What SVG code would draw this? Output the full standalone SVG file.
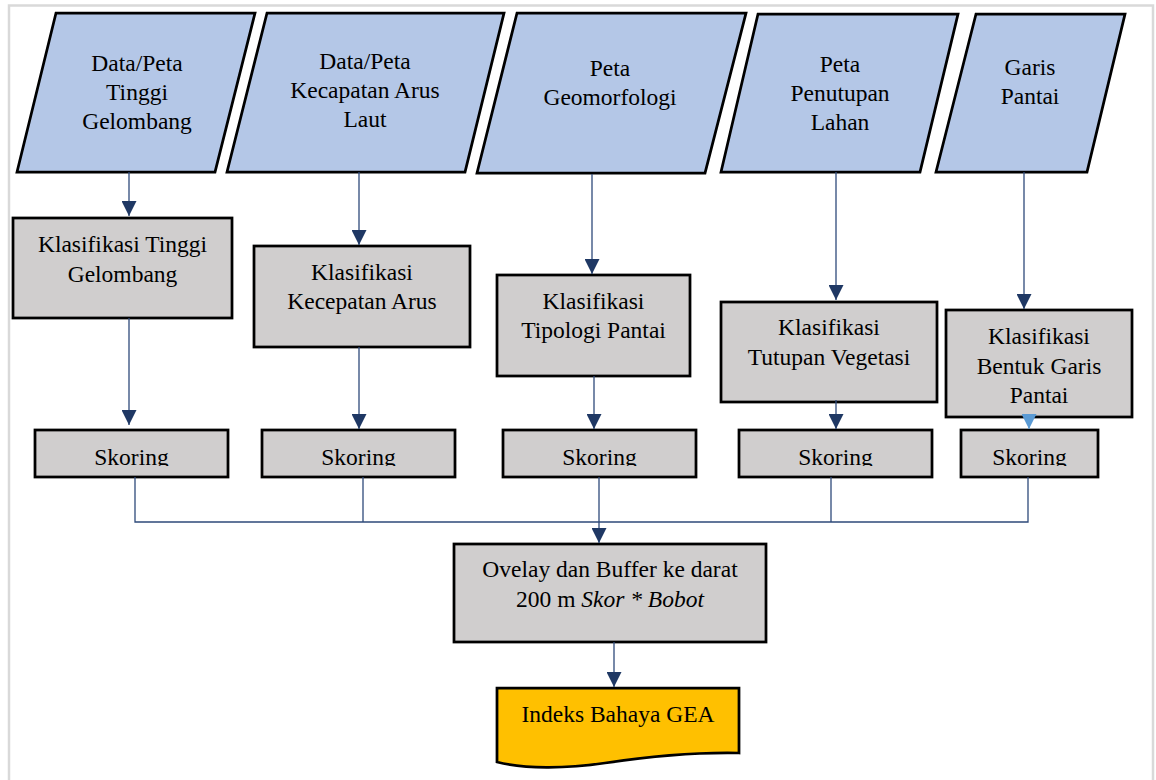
<svg xmlns="http://www.w3.org/2000/svg" width="1156" height="780" viewBox="0 0 1156 780" font-family="Liberation Serif, Times New Roman, DejaVu Serif, serif">
<style>
.frame{fill:#ffffff;stroke:#d9d9d9;stroke-width:2.5}
.data{fill:#b4c7e7;stroke:#000;stroke-width:2.75;stroke-linejoin:miter}
.proc{fill:#d0cece;stroke:#000;stroke-width:2.75}
.doc{fill:#ffc000;stroke:#000;stroke-width:2.75}
.t{font-family:'Liberation Serif','Times New Roman','DejaVu Serif',serif;font-size:23.5px;fill:#000;text-anchor:middle}
.conn{fill:none;stroke:#2e4a7a;stroke-width:1.3}
.arr{marker-end:url(#ah)}
.light{fill:none;stroke:#5b9bd5;stroke-width:1.3;marker-end:url(#ahl)}
</style>
<defs>
<marker id="ah" markerUnits="userSpaceOnUse" markerWidth="15" markerHeight="15" refX="15" refY="7.5" orient="auto" viewBox="0 0 15 15">
<path d="M0,0 L15,7.5 L0,15 Z" fill="#1f3864"/>
</marker>
<marker id="ahl" markerUnits="userSpaceOnUse" markerWidth="15" markerHeight="15" refX="15" refY="7.5" orient="auto" viewBox="0 0 15 15">
<path d="M0,0 L15,7.5 L0,15 Z" fill="#5b9bd5"/>
</marker>
<clipPath id="skclip"><rect x="0" y="0" width="1156" height="466"/></clipPath>
</defs>
<rect class="frame" x="9" y="5.5" width="1144" height="790"/>

<g id="data1"><polygon class="data" points="56,13 255,13 215,172 17,172"/>
<text class="t" x="137" y="71">Data/Peta</text><text class="t" x="137" y="100">Tinggi</text><text class="t" x="137" y="129">Gelombang</text></g>
<g id="data2"><polygon class="data" points="267,13 504,13 465,172 227,172"/>
<text class="t" x="365" y="69">Data/Peta</text><text class="t" x="365" y="98">Kecapatan Arus</text><text class="t" x="365" y="127">Laut</text></g>
<g id="data3"><polygon class="data" points="517,13 746,13 705,173 477,173"/>
<text class="t" x="610" y="76">Peta</text><text class="t" x="610" y="105">Geomorfologi</text></g>
<g id="data4"><polygon class="data" points="758,14 958,14 920,172 721,172"/>
<text class="t" x="840" y="72">Peta</text><text class="t" x="840" y="101">Penutupan</text><text class="t" x="840" y="130">Lahan</text></g>
<g id="data5"><polygon class="data" points="976,14 1125,14 1087,172 936,172"/>
<text class="t" x="1030" y="75">Garis</text><text class="t" x="1030" y="104">Pantai</text></g>

<g id="klas1"><rect class="proc" x="13" y="218" width="219" height="100"/>
<text class="t" x="122.5" y="252">Klasifikasi Tinggi</text><text class="t" x="122.5" y="282">Gelombang</text></g>
<g id="klas2"><rect class="proc" x="254" y="246" width="216" height="101"/>
<text class="t" x="362" y="280">Klasifikasi</text><text class="t" x="362" y="309">Kecepatan Arus</text></g>
<g id="klas3"><rect class="proc" x="497" y="275" width="193" height="101"/>
<text class="t" x="593.5" y="309">Klasifikasi</text><text class="t" x="593.5" y="338">Tipologi Pantai</text></g>
<g id="klas4"><rect class="proc" x="721" y="302" width="216" height="100"/>
<text class="t" x="829" y="335">Klasifikasi</text><text class="t" x="829" y="365">Tutupan Vegetasi</text></g>
<g id="klas5"><rect class="proc" x="946" y="310" width="186" height="107"/>
<text class="t" x="1039" y="344">Klasifikasi</text><text class="t" x="1039" y="374">Bentuk Garis</text><text class="t" x="1039" y="403">Pantai</text></g>

<g id="skor1"><rect class="proc" x="35" y="430" width="193" height="47"/><text class="t" x="131.5" y="465" clip-path="url(#skclip)">Skoring</text></g>
<g id="skor2"><rect class="proc" x="262" y="430" width="193" height="47"/><text class="t" x="358.5" y="465" clip-path="url(#skclip)">Skoring</text></g>
<g id="skor3"><rect class="proc" x="503" y="430" width="193" height="47"/><text class="t" x="599.5" y="465" clip-path="url(#skclip)">Skoring</text></g>
<g id="skor4"><rect class="proc" x="739" y="430" width="193" height="47"/><text class="t" x="835.5" y="465" clip-path="url(#skclip)">Skoring</text></g>
<g id="skor5"><rect class="proc" x="961" y="430" width="137" height="47"/><text class="t" x="1029.5" y="465" clip-path="url(#skclip)">Skoring</text></g>

<g id="overlay"><rect class="proc" x="454" y="544" width="312" height="98"/>
<text class="t" x="610" y="577">Ovelay dan Buffer ke darat</text>
<text class="t" x="610" y="607">200 m <tspan font-style="italic">Skor * Bobot</tspan></text></g>

<g id="gea"><path class="doc" d="M497,688 H739 V753 C690,752 645,757 605,763 C565,769 525,769 497,762 Z"/>
<text class="t" x="618" y="722">Indeks Bahaya GEA</text></g>

<g id="connectors">
<line class="conn arr" x1="129" y1="172" x2="129" y2="216"/>
<line class="conn arr" x1="129" y1="318" x2="129" y2="425"/>
<line class="conn arr" x1="359" y1="172" x2="359" y2="245"/>
<line class="conn arr" x1="359" y1="347" x2="359" y2="429"/>
<line class="conn arr" x1="592" y1="174" x2="592" y2="274"/>
<line class="conn arr" x1="594" y1="376" x2="594" y2="429"/>
<line class="conn arr" x1="836" y1="172" x2="836" y2="300"/>
<line class="conn arr" x1="836" y1="400" x2="836" y2="429"/>
<line class="conn arr" x1="1024" y1="172" x2="1024" y2="309"/>
<line class="light" x1="1029" y1="417" x2="1029" y2="429"/>
<polyline class="conn" points="135,477 135,522 1028,522 1028,477"/>
<line class="conn" x1="363" y1="477" x2="363" y2="522"/>
<line class="conn" x1="831" y1="477" x2="831" y2="522"/>
<line class="conn arr" x1="599" y1="477" x2="599" y2="543"/>
<line class="conn arr" x1="614" y1="642" x2="614" y2="687"/>
</g>
</svg>
